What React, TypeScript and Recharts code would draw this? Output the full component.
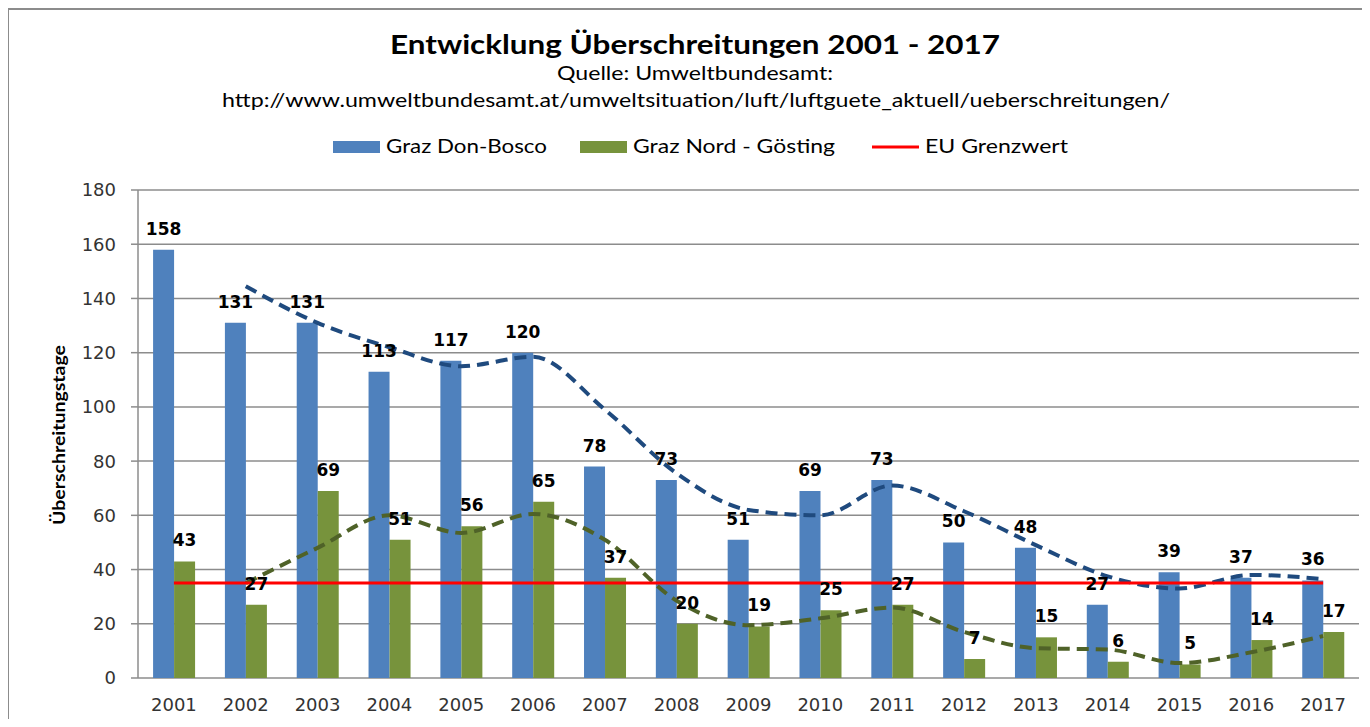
import { ComposedChart, Bar, Line, XAxis, YAxis, CartesianGrid, LabelList } from "recharts";

const YEARS = ["2001", "2002", "2003", "2004", "2005", "2006", "2007", "2008", "2009", "2010", "2011", "2012", "2013", "2014", "2015", "2016", "2017"];
const DON_BOSCO = [158, 131, 131, 113, 117, 120, 78, 73, 51, 69, 73, 50, 48, 27, 39, 37, 36];
const NORD_GOESTING = [43, 27, 69, 51, 56, 65, 37, 20, 19, 25, 27, 7, 15, 6, 5, 14, 17];
// dashed trend lines (no point at 2001)
const DON_BOSCO_TREND = [null, 144.5, 131, 122, 115, 118.5, 99, 75.5, 62, 60, 71, 61.5, 49, 37.5, 33, 38, 36.5];
const NORD_TREND = [null, 35, 48, 60, 53.5, 60.5, 51, 28.5, 19.5, 22, 26, 17, 11, 10.5, 5.5, 9.5, 15.5];
const EU_LIMIT = [35, 35, 35, 35, 35, 35, 35, 35, 35, 35, 35, 35, 35, 35, 35, 35, 35];
const Y_TICKS = [0, 20, 40, 60, 80, 100, 120, 140, 160, 180];
const BOUNDARY_TICKS = [0, 1, 2, 3, 4, 5, 6, 7, 8, 9, 10, 11, 12, 13, 14, 15, 16, 17];

const data = YEARS.map((year, i) => ({
    year,
    donBosco: DON_BOSCO[i],
    nord: NORD_GOESTING[i],
    donBoscoTrend: DON_BOSCO_TREND[i],
    nordTrend: NORD_TREND[i],
    limit: EU_LIMIT[i],
}));

const GRID = "#8c8c8c";
const BLUE = "#4F81BD";
const GREEN = "#77933C";
const CALIBRI = "Lato, 'Open Sans', sans-serif";
const VERDANA = "'DejaVu Sans', Verdana, sans-serif";

const labelStyle = { fill: "#000", fontSize: 17, fontWeight: "bold", fontFamily: VERDANA };

export default function App() {
    return (
        <div style={{ position: "relative", width: 1354, height: 711, overflow: "hidden", background: "#fff" }}>
            <div
                style={{
                    position: "absolute",
                    left: -1,
                    top: 0,
                    width: 2000,
                    height: 2000,
                    borderLeft: `2px solid ${GRID}`,
                    borderTop: `2px solid ${GRID}`,
                }}
            />
            <div style={{ position: "absolute", left: 0, top: 0 }}>
                <ComposedChart
                    width={1354}
                    height={711}
                    data={data}
                    margin={{ top: 182, right: 3, left: 0, bottom: 0 }}
                    barCategoryGap="21%"
                    barGap={0}
                >
                    <CartesianGrid horizontal vertical={false} stroke={GRID} strokeWidth={1.5} />
                    <XAxis
                        xAxisId="bounds"
                        type="number"
                        domain={[0, 17]}
                        ticks={BOUNDARY_TICKS}
                        allowDataOverflow
                        height={0}
                        tick={false}
                        tickSize={7}
                        axisLine={{ stroke: GRID, strokeWidth: 1.5 }}
                        tickLine={{ stroke: GRID, strokeWidth: 1.5 }}
                    />
                    <XAxis
                        dataKey="year"
                        height={41}
                        axisLine={false}
                        tickLine={false}
                        tickSize={0}
                        tickMargin={20}
                        interval={0}
                        tick={{ fill: "#333", fontSize: 18, fontFamily: VERDANA }}
                    />
                    <YAxis
                        width={130}
                        domain={[0, 180]}
                        ticks={Y_TICKS}
                        interval={0}
                        tickSize={7}
                        tickMargin={15}
                        axisLine={{ stroke: GRID, strokeWidth: 1.5 }}
                        tickLine={{ stroke: GRID, strokeWidth: 1.5 }}
                        tick={{ fill: "#333", fontSize: 18, fontFamily: VERDANA }}
                    />
                    <Bar dataKey="donBosco" fill={BLUE} isAnimationActive={false}>
                        <LabelList dataKey="donBosco" position="top" offset={15} style={labelStyle} />
                    </Bar>
                    <Bar dataKey="nord" fill={GREEN} isAnimationActive={false}>
                        <LabelList dataKey="nord" position="top" offset={15} style={labelStyle} />
                    </Bar>
                    <Line
                        dataKey="donBoscoTrend"
                        type="monotone"
                        stroke="#1F4A7E"
                        strokeWidth={4}
                        strokeDasharray="12 7"
                        dot={false}
                        activeDot={false}
                        isAnimationActive={false}
                    />
                    <Line
                        dataKey="nordTrend"
                        type="monotone"
                        stroke="#4F6228"
                        strokeWidth={4}
                        strokeDasharray="12 7"
                        dot={false}
                        activeDot={false}
                        isAnimationActive={false}
                    />
                    <Line
                        dataKey="limit"
                        type="linear"
                        stroke="#FF0000"
                        strokeWidth={3}
                        dot={false}
                        activeDot={false}
                        isAnimationActive={false}
                    />
                </ComposedChart>
            </div>
            <svg width={1354} height={711} style={{ position: "absolute", left: 0, top: 0, pointerEvents: "none" }}>
                <text x={687} y={46} textAnchor="middle" fontFamily={CALIBRI} fontWeight="bold" fontSize={26} fill="#000" textLength={610} lengthAdjust="spacingAndGlyphs">
                    Entwicklung Überschreitungen 2001 - 2017
                </text>
                <text x={687} y={72} textAnchor="middle" fontFamily={CALIBRI} fontSize={19} fill="#000" textLength={276} lengthAdjust="spacingAndGlyphs">
                    Quelle: Umweltbundesamt:
                </text>
                <text x={688} y={99} textAnchor="middle" fontFamily={CALIBRI} fontSize={19} fill="#000" textLength={948} lengthAdjust="spacingAndGlyphs">
                    http://www.umweltbundesamt.at/umweltsituation/luft/luftguete_aktuell/ueberschreitungen/
                </text>
                <rect x={325} y={133} width={47} height={12} fill={BLUE} />
                <text x={378} y={145} fontFamily={CALIBRI} fontSize={19} fill="#000" textLength={161} lengthAdjust="spacingAndGlyphs">
                    Graz Don-Bosco
                </text>
                <rect x={572} y={133} width={47} height={12} fill={GREEN} />
                <text x={625} y={145} fontFamily={CALIBRI} fontSize={19} fill="#000" textLength={202} lengthAdjust="spacingAndGlyphs">
                    Graz Nord - Gösting
                </text>
                <line x1={864} x2={911} y1={139} y2={139} stroke="#FF0000" strokeWidth={3} />
                <text x={917} y={145} fontFamily={CALIBRI} fontSize={19} fill="#000" textLength={143} lengthAdjust="spacingAndGlyphs">
                    EU Grenzwert
                </text>
                <text
                    x={50}
                    y={427}
                    transform="rotate(-90 50 427)"
                    textAnchor="middle"
                    dominantBaseline="central"
                    fontFamily={CALIBRI}
                    fontWeight="bold"
                    fontSize={17}
                    fill="#000"
                    textLength={180}
                    lengthAdjust="spacingAndGlyphs"
                >
                    Überschreitungstage
                </text>
            </svg>
        </div>
    );
}
